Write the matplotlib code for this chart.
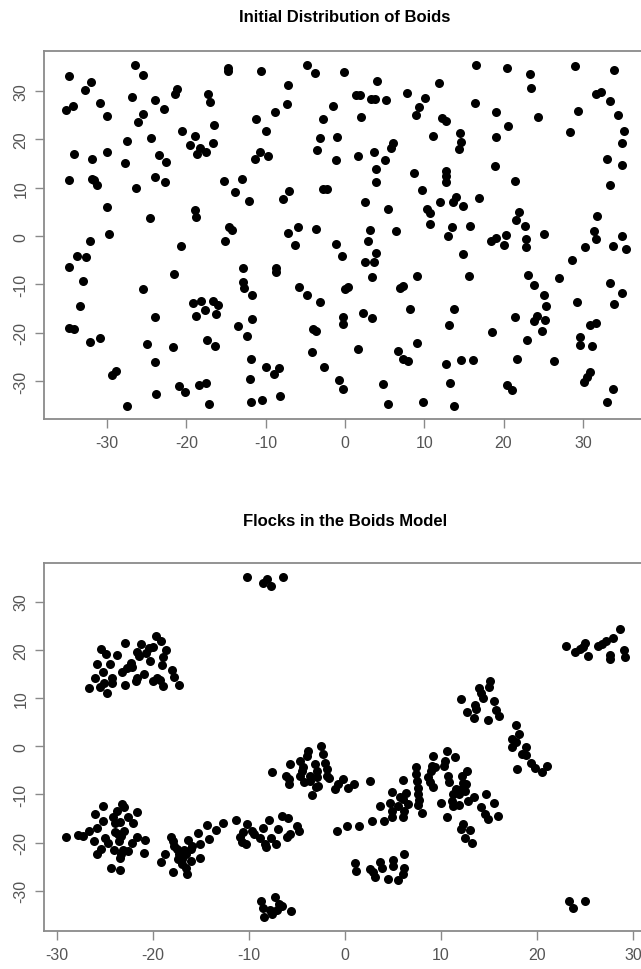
import matplotlib
matplotlib.use("Agg")
import matplotlib.pyplot as plt

plt.rcParams["font.family"] = ["Liberation Sans", "DejaVu Sans"]
plt.rcParams["axes.unicode_minus"] = False

# Initial distribution
init_x = [
    -34.8, -26.5, -25.4, -32.8, -32.0, -35.2, -34.3, -30.9, -30.05, -26.8, -25.4, -26.1, -23.9, -22.8,
    -21.2, -21.4, -17.3, -17.0, -20.6, -18.9, -19.5, -18.3, -18.7, -17.5, -16.6, -16.5, -24.4, -27.5,
    -34.1, -31.9, -30.05, -27.7, -23.45, -22.5, -34.8, -31.9, -31.6, -31.2, -26.3, -24.0, -22.7, -30.05,
    -24.6, -18.9, -18.8, -29.8,
    -14.7, -14.8, -10.6, -4.83, -3.78, -0.12, 4.0, -7.2, -7.27, -8.8, -11.2, -9.96, -1.47, -2.8,
    1.39, 1.9, 3.28, 3.79, 5.17, 7.78, 10.1, 9.3, 9.0, 2.02, -3.15, -1.05, -3.57, -1.13, 1.6, 3.7,
    6.1, 5.8, 5.05, 3.87, 3.87, 8.7, 9.7, 10.3, -10.7, -11.3, -9.7, -13.0, -13.9, -15.3, -12.06, -7.1,
    -7.8, -2.73, -2.31, 2.53, 5.47, -14.6, -14.2, -7.2, -5.9, -3.7, 3.15, 6.43,
    16.5, 20.5, 23.3, 23.5, 29.0, 33.9, 11.9, 16.4, 19.1, 24.4, 20.6, 19.1, 11.1, 12.3, 12.8, 14.5,
    14.6, 14.4, 18.9, 21.4, 31.7, 32.3, 33.4, 34.4, 29.4, 28.4, 35.2, 35.0, 33.1, 35.0, 33.4, 12.7,
    12.7, 12.7, 12.0, 13.6, 13.96, 14.9, 16.9, 10.7, 10.7, 13.5, 15.8, 21.9, 21.6, 22.7, 31.8, 31.4,
    12.95, 22.8, 22.8, 20.3, 20.1, 18.4, 19.0, 25.1, 31.7, 35.0, 33.8, 35.4, 30.3, 28.6, 14.9, 15.6,
    23.1, 23.9, 25.1, 25.35, 24.2, 23.9, 25.2, 24.9, 23.0, 21.5, 18.5, 27.0, 29.3, 33.4, 35.0, 33.9,
    13.75, 13.1, 30.9, 31.7, 29.7, 29.7, 31.2, 21.65, 26.4, 12.7, 14.7, 16.1, 13.2, 20.5, 21.06, 30.9,
    30.5, 30.1, 33.8, 33.1, 13.7, 9.8,
    -15.1, -6.3, -1.13, -0.42, 2.9, 3.87, 2.53, 3.7, 3.37, -12.9, -8.7, -8.74, -12.9, -12.7, -11.7,
    -5.75, -4.83, -3.2, 0.0, 0.34, -0.29, -0.29, 2.3, 3.45, 9.04, 6.94, 7.3, 8.2, -16.6, -16.0, -16.3,
    -13.5, -12.4, -11.7, -16.4, -4.0, -3.65, -4.2, 1.6, 6.65, 7.3, 7.9, 9.1, -11.9, -10.0, -8.95,
    -8.28, -12.0, -2.6, -0.71, -0.21, 4.84, 5.47, -11.8, -10.4, -8.2,
    -32.1, -33.8, -32.66, -34.8, -33.0, -33.4, -34.8, -34.2, -32.2, -30.85, -29.4, -28.8, -27.5,
    -20.7, -21.5, -25.5, -23.9, -24.9, -21.64, -23.95, -23.8, -20.9, -20.1, -18.4, -17.5, -17.1,
    -19.1, -18.15, -18.8, -17.7, -17.35,
]
init_y = [
    33.1, 35.3, 33.4, 30.2, 31.8, 26.0, 26.9, 27.6, 24.9, 28.8, 25.3, 23.6, 28.2, 26.2,
    30.4, 29.3, 29.3, 27.8, 21.8, 20.7, 18.8, 18.3, 16.9, 17.3, 19.2, 22.9, 20.2, 19.6,
    16.9, 16.0, 17.4, 15.1, 16.7, 15.4, 11.7, 11.8, 11.5, 10.5, 9.9, 12.3, 11.2, 6.1,
    3.65, 5.4, 3.9, 0.4,
    34.8, 34.2, 34.2, 35.4, 33.7, 34.0, 32.0, 31.3, 27.3, 25.7, 24.3, 21.7, 26.9, 24.2,
    29.1, 29.1, 28.3, 28.3, 28.2, 29.5, 28.6, 26.7, 25.1, 24.7, 20.2, 20.5, 17.8, 15.8, 16.5, 17.3,
    19.3, 18.3, 15.8, 13.8, 11.1, 13.0, 9.6, 5.6, 17.4, 16.0, 16.5, 11.8, 9.2, 11.3, 7.2, 9.4,
    7.6, 9.7, 9.7, 7.1, 5.6, 1.8, 1.2, 0.55, 1.9, 1.45, 1.24, 0.97,
    35.3, 34.7, 33.6, 30.7, 35.2, 34.3, 31.7, 27.5, 25.7, 24.7, 22.7, 20.5, 20.7, 24.5, 23.7, 21.3,
    19.35, 18.1, 14.5, 11.4, 29.3, 29.8, 28.0, 25.1, 25.9, 21.5, 21.8, 19.2, 15.9, 14.7, 10.5, 13.5,
    12.5, 11.2, 7.1, 7.1, 8.0, 6.3, 7.9, 4.75, 2.5, 1.8, 2.1, 4.9, 3.3, 2.1, 4.2, 1.1,
    0.07, -0.62, -2.34, 0.2, -1.79, -0.96, -0.41, 0.41, -0.62, 0.07, -2.0, -2.7, -2.2, -4.96, -3.7, -8.3,
    -8.0, -10.05, -12.2, -14.5, -16.5, -17.6, -17.4, -19.7, -21.4, -16.8, -19.8, -8.7, -13.7, -9.7, -11.8, -14.05,
    -15.1, -18.4, -18.3, -18.0, -20.8, -22.45, -22.8, -25.3, -25.9, -26.4, -25.6, -25.6, -30.4, -30.8, -31.8, -28.0,
    -29.1, -30.2, -31.5, -34.2, -35.1, -34.2,
    -0.96, -1.86, -1.65, -4.06, -1.1, -3.58, -5.3, -5.3, -8.4, -6.6, -6.5, -7.4, -9.4, -10.8, -12.1,
    -10.6, -12.2, -13.6, -10.95, -10.5, -16.7, -18.2, -15.8, -16.9, -8.2, -10.8, -10.3, -15.08, -13.4, -14.3, -16.0,
    -18.5, -20.7, -17.2, -22.8, -19.2, -19.6, -23.9, -23.3, -23.7, -25.4, -25.8, -22.0, -25.3, -27.1, -28.5,
    -27.3, -29.5, -27.1, -29.7, -31.6, -30.6, -34.6, -34.2, -33.8, -33.1,
    -0.96, -4.06, -4.27, -6.47, -9.2, -14.5, -19.0, -19.2, -21.97, -21.1, -28.65, -27.96, -35.05,
    -2.13, -7.85, -11.0, -16.7, -22.3, -22.9, -26.0, -32.6, -31.0, -32.3, -30.8, -30.4, -34.7,
    -13.8, -13.4, -16.5, -15.3, -21.4,
]

# Flocks after the simulation
flock_x = [
    -26.6, -26.0, -25.8, -25.4, -24.9, -25.2, -25.5, -25.1, -24.8, -24.5, -24.2, -24.3, -23.7, -22.9,
    -23.2, -22.9, -22.7, -22.3, -22.2, -21.8, -21.7, -21.6, -21.25, -21.4, -20.9, -20.7, -20.4, -20.3,
    -20.0, -20.0, -19.7, -19.1, -19.6, -19.3, -18.9, -18.9, -19.0, -18.6, -18.05, -17.8, -17.3,
    -10.2, -8.5, -8.16, -7.74, -6.4,
    23.0, 23.96, 24.5, 25.0, 24.8, 25.3, 26.4, 26.8, 27.2, 27.9, 28.6, 27.6, 27.6, 29.1, 29.2,
    12.1, 15.1, 15.0, 14.0, 14.2, 14.4, 15.5, 13.5, 13.6, 12.7, 13.4, 14.9, 15.7, 16.0, 17.8, 18.1, 17.4,
    -29.0, -27.8, -27.3, -26.6, -26.0, -25.8, -26.1, -25.8, -25.2, -25.2, -25.0, -25.4, -24.7, -24.4,
    -24.1, -23.96, -23.7, -23.96, -23.6, -24.0, -23.4, -23.4, -23.2, -23.0, -23.5, -23.4, -23.3, -23.0,
    -23.3, -23.1, -22.6, -22.6, -22.05, -21.7, -22.2, -21.7, -20.8, -20.9,
    -19.1, -18.7, -18.06, -17.95, -17.9, -17.8, -17.5, -17.3, -17.0, -17.4, -17.0, -16.8, -16.5, -16.5,
    -16.4, -16.3, -16.0, -16.0, -15.9, -15.3, -15.1, -15.1, -14.4, -14.1, -13.4,
    -12.74, -11.35, -10.2, -10.6, -10.9, -10.7, -9.7, -9.5, -10.3, -8.85, -8.5, -8.3, -8.2, -7.9, -7.74,
    -7.2, -6.94, -6.6, -5.97, -6.0, -4.96, -4.75, -5.7,
    -7.64, -5.7, -6.1, -5.8, -5.8, -4.7, -4.4, -4.5, -4.7, -3.8, -4.0, -4.3, -3.6, -3.47, -3.1, -2.95,
    -2.9, -3.6, -3.0, -2.8, -2.5, -2.25, -2.08, -1.9, -1.84, -1.63, -1.04, -0.7, -0.17, 0.35, 0.98, 2.6,
    -0.87, 0.24, 1.5, 2.78, 4.07, 4.9, 3.65, 4.86, 4.7, 4.86, 5.56, 5.73, 6.0, 6.08, 6.2, 6.08, 6.4, 6.6,
    7.4, 7.45, 7.5, 7.6, 7.6, 7.7, 7.6, 8.06,
    1.04, 1.2, 2.6, 2.95, 3.13, 3.65, 3.82, 4.5, 5.04, 4.97, 5.56, 6.0, 6.15, 6.15,
    -8.7, -8.5, -8.4, -7.8, -7.6, -7.3, -6.9, -7.1, -6.6, -5.6,
    17.36, 17.8, 18.9, 18.4, 18.9, 17.9, 19.4, 19.8, 20.5, 21.0,
    9.2, 9.1, 9.4, 9.0, 8.7, 8.85, 9.2, 9.96, 10.4, 10.3, 10.6, 10.7, 10.8, 11.5, 10.6, 11.3, 11.1,
    11.3, 11.6, 11.9, 11.9, 12.15, 12.3, 12.15, 12.7, 12.6, 12.5, 12.8, 13.4, 12.3, 12.05, 13.0, 12.5,
    13.2, 14.2, 14.7, 14.6, 14.9, 15.5, 15.9,
    23.3, 23.7, 25.0,
]
flock_y = [
    12.0, 14.2, 17.0, 20.1, 19.1, 15.3, 12.3, 13.2, 11.0, 17.1, 14.1, 13.2, 18.9, 21.5,
    15.4, 12.6, 16.3, 17.3, 16.5, 13.5, 14.2, 19.6, 21.1, 18.7, 14.9, 19.4, 20.3, 17.6,
    20.6, 13.5, 22.9, 21.8, 14.2, 13.7, 12.5, 18.4, 16.9, 19.9, 15.8, 14.4, 12.65,
    35.1, 33.9, 34.6, 33.3, 35.1,
    20.8, 19.6, 20.1, 21.5, 20.5, 18.7, 20.8, 21.2, 21.8, 22.5, 24.3, 18.9, 18.0, 19.9, 18.4,
    9.74, 13.5, 12.2, 12.0, 11.1, 9.95, 9.3, 8.6, 7.67, 7.0, 5.8, 5.4, 7.5, 6.3, 4.35, 2.6, 1.4,
    -18.8, -18.4, -18.6, -17.7, -14.0, -16.9, -19.6, -22.3, -12.4, -15.6, -19.1, -21.4, -20.2, -25.3,
    -14.7, -16.0, -13.4, -17.9, -18.3, -21.6, -25.7, -15.8, -12.0, -12.7, -19.6, -23.2, -22.4, -17.7,
    -18.6, -21.6, -21.7, -14.8, -16.0, -13.6, -20.0, -18.9, -19.5, -22.2,
    -24.1, -22.4, -18.8, -19.6, -26.2, -20.7, -21.4, -22.4, -24.5, -23.4, -23.4, -21.6, -22.4, -25.2,
    -26.6, -19.5, -21.4, -23.8, -20.7, -18.1, -20.3, -23.2, -16.3, -19.3, -17.4,
    -16.0, -15.35, -16.2, -17.9, -18.95, -19.8, -17.6, -18.3, -20.3, -19.1, -16.9, -20.3, -20.9, -15.35, -19.1,
    -20.3, -17.2, -14.45, -15.0, -18.95, -16.5, -17.7, -18.3,
    -5.3, -3.7, -6.2, -6.85, -7.9, -3.04, -4.3, -5.1, -6.2, -0.97, -2.1, -7.5, -7.3, -10.2, -3.7, -5.1,
    -6.4, -6.2, -8.4, -8.2, 0.07, -1.66, -3.4, -4.77, -6.2, -6.7, -8.9, -7.9, -6.85, -8.6, -7.9, -7.2,
    -17.7, -16.5, -16.5, -15.6, -15.5, -14.8, -12.4, -9.5, -11.8, -13.4, -12.4, -10.65, -11.0, -7.0, -13.4, -14.7, -9.8, -12.0,
    -4.4, -5.8, -7.2, -8.6, -9.96, -11.1, -12.2, -13.9,
    -24.3, -26.0, -25.5, -26.2, -27.2, -24.1, -25.2, -27.6, -23.6, -24.8, -27.8, -26.5, -25.2, -22.3,
    -32.1, -33.5, -35.5, -34.0, -34.9, -31.4, -32.8, -34.0, -33.1, -34.2,
    -0.28, 0.76, -0.14, -1.66, -1.8, -4.77, -3.6, -4.6, -5.3, -4.2,
    -2.0, -4.1, -4.4, -5.1, -6.5, -7.5, -8.4, -11.7, -3.04, -4.1, -1.1, -6.2, -7.5, -2.35, -14.8, -9.96, -11.3,
    -12.4, -8.9, -9.96, -12.2, -6.15, -7.75, -8.9, -5.1, -7.9, -9.3, -11.3, -10.5, -16.2, -17.2, -17.4, -19.1,
    -20.0, -12.6, -9.96, -14.1, -15.1, -11.8, -14.5,
    -32.1, -33.5, -32.2,
]

ticks = [-30, -20, -10, 0, 10, 20, 30]

W, H = 641, 970
fig = plt.figure(figsize=(W / 100, H / 100), dpi=100)


def boid_axes(rect, xs, ys, xlim, ylim, title, title_y):
    ax = fig.add_axes(rect)
    ax.plot(xs, ys, "o", color="black", markersize=6.5, markeredgewidth=0)
    ax.set_xlim(*xlim)
    ax.set_ylim(*ylim)
    ax.set_xticks(ticks)
    ax.set_yticks(ticks)
    for s in ax.spines.values():
        s.set_color("#8a8a8a")
        s.set_linewidth(1.3)
    ax.tick_params(direction="out", length=6.5, width=1.0, color="#8a8a8a",
                   labelcolor="#555555", labelsize=11.5, pad=5)
    for lab in ax.get_yticklabels():
        lab.set_rotation(90)
        lab.set_va("center")
    # title centred over the plot region
    fig.text(345 / W, 1 - title_y / H, title, ha="center", va="center",
             fontsize=12, fontweight="bold")
    return ax


# top panel
boid_axes([44.3 / W, 1 - 420 / H, 600 / W, 367.7 / H],
          init_x, init_y, (-37.9, 37.75), (-37.8, 38.2),
          "Initial Distribution of Boids", 17)
# bottom panel (right edge falls outside the picture, as in the reference)
boid_axes([44.3 / W, 1 - 931.7 / H, 607 / W, 367.7 / H],
          flock_x, flock_y, (-31.3, 31.9), (-38.3, 38.0),
          "Flocks in the Boids Model", 521)

fig.savefig("out.png", dpi=100)
